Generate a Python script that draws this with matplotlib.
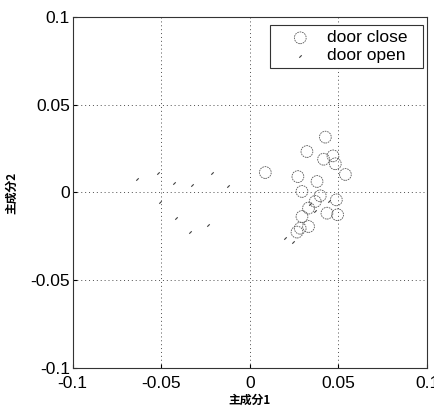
import matplotlib
matplotlib.use("Agg")
import matplotlib.pyplot as plt
from matplotlib.patches import Rectangle

close_x = [0.0087, 0.0426, 0.0322, 0.0416, 0.0469, 0.0482, 0.0539, 0.0271, 0.0379, 0.0294,
           0.0488, 0.0369, 0.0331, 0.0495, 0.0435, 0.0294, 0.0284, 0.0331, 0.0266, 0.0397]
close_y = [0.0114, 0.0316, 0.0234, 0.0190, 0.0209, 0.0164, 0.0103, 0.0091, 0.0063, 0.0006,
           -0.0042, -0.0051, -0.0089, -0.0127, -0.0118, -0.0137, -0.0204, -0.0194, -0.0226, -0.0019]

open_x = [-0.0638, -0.0516, -0.0510, -0.0427, -0.0328, -0.0215, -0.0124, -0.0418, -0.0337,
          -0.0239, 0.0200, 0.0241, 0.0444, 0.0369, 0.0340]
open_y = [0.0076, 0.0114, -0.0057, 0.0053, 0.0044, 0.0110, 0.0038, -0.0147, -0.0226,
          -0.0185, -0.0257, -0.0285, -0.0046, -0.0103, -0.0065]

ticks = [-0.1, -0.05, 0, 0.05, 0.1]
tick_labels = ['-0.1', '-0.05', '0', '0.05', '0.1']
legend_labels = ['door close', 'door open']
xlabel = '主成分1'
ylabel = '主成分2'

plt.rcParams['font.family'] = ['Liberation Sans', 'Noto Sans CJK JP', 'DejaVu Sans']

fig = plt.figure(figsize=(4.34, 4.08), dpi=100)
ax = fig.add_axes([0.1675, 0.0988, 0.8165, 0.8588])

ax.scatter(close_x, close_y, s=72, facecolors='none', edgecolors='0.35',
           linewidths=0.6, linestyle=(0, (2, 1)), label=legend_labels[0], zorder=3)
ax.scatter(open_x, open_y, s=6, marker=(2, 0, -45), color='0.25',
           linewidths=0.8, label=legend_labels[1], zorder=3)

ax.set_xlim(-0.1, 0.1)
ax.set_ylim(-0.1, 0.1)
ax.set_xticks(ticks)
ax.set_xticklabels(tick_labels)
ax.set_yticks(ticks)
ax.set_yticklabels(tick_labels)
ax.tick_params(direction='in', length=3, labelsize=12.5, colors='black', pad=2)
ax.tick_params(axis='x', pad=6)
ax.grid(True, linestyle=(0, (1, 3)), color='0.3', linewidth=0.7)
for s in ax.spines.values():
    s.set_linewidth(0.8)
    s.set_color('0.2')

ax.set_xlabel(xlabel, family=['Noto Sans CJK JP', 'DejaVu Sans'], fontsize=8.5,
              fontweight='bold', labelpad=2)
ax.set_ylabel(ylabel, family=['Noto Sans CJK JP', 'DejaVu Sans'], fontsize=8.5,
              fontweight='bold', labelpad=9)

leg = ax.legend(loc='upper right', bbox_to_anchor=(0.960, 0.978), fontsize=12.5,
                frameon=False, borderaxespad=0.0, handletextpad=0.1,
                borderpad=0.3, labelspacing=0.15, handlelength=2.9)

fig.canvas.draw()
bb = leg.get_window_extent().transformed(fig.transFigure.inverted())
extra = 10 / (4.34 * 100)
frame = Rectangle((bb.x0, bb.y0), bb.width + extra, bb.height, transform=fig.transFigure,
                  fill=True, facecolor='white', edgecolor='0.2', linewidth=0.8, zorder=4)
ax.add_artist(frame)
frame.set_clip_on(False)
leg.set_zorder(5)

fig.savefig('out.png', dpi=100)
